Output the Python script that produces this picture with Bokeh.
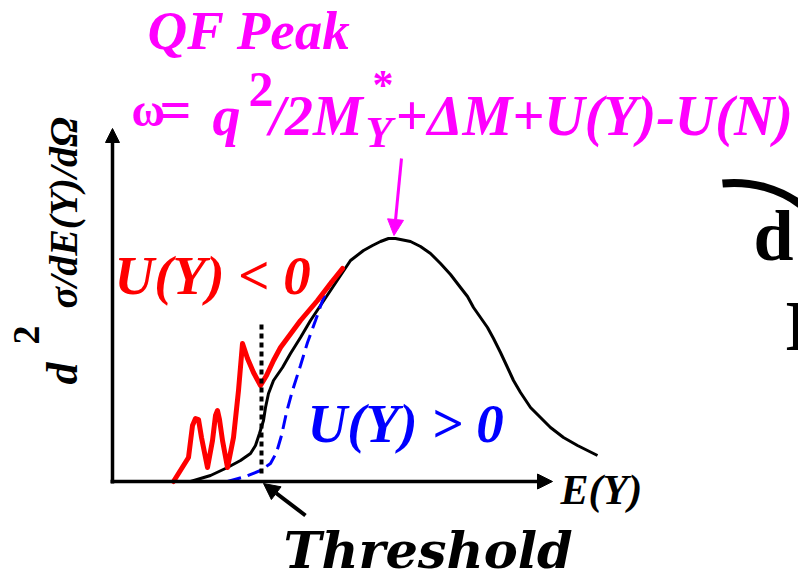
import math
from bokeh.plotting import figure
from bokeh.models import Range1d, Label, Arrow, NormalHead
from bokeh.embed import file_html
from bokeh.resources import INLINE

# ---- schematic data (E = energy axis units, S = cross-section units; origin at axes corner)
black_E = [78, 98, 115, 128, 138, 143, 147, 151, 153, 156, 161, 170, 178, 188, 198, 208,
           218, 228, 238, 251, 260, 268, 276, 283, 298, 308, 318, 328, 338, 348, 355,
           361, 368, 375, 381, 388, 395, 401, 408, 418, 428, 438, 451, 465, 485]
black_S = [0, 6, 14, 21, 28, 36, 48, 61, 74, 88, 101, 114, 128, 144, 161, 176,
           191, 206, 221, 231, 236, 240, 243, 243, 240, 235, 228, 218, 207, 194, 185,
           174, 164, 154, 143, 129, 114, 101, 89, 74, 64, 54, 44, 36, 26]

red_E = [61, 76, 80, 83, 86, 89, 95, 100, 103, 105, 107, 110, 115, 121, 126, 130, 135,
         141, 148, 154, 161, 168, 188, 205, 218, 230]
red_S = [0, 24, 56, 63, 62, 44, 14, 41, 66, 71, 62, 41, 14, 44, 91, 138, 123,
         109, 96, 106, 121, 134, 161, 181, 198, 213]

blue_E = [115, 133, 148, 158, 164, 169, 174, 180, 188, 195, 203, 210, 219]
blue_S = [0, 5, 11, 18, 29, 46, 69, 91, 116, 139, 161, 181, 201]

threshold_E = 149
threshold_S = [8, 159]
qf_peak_E = 281
qf_peak_S = 248

E_axis_end = 440
S_axis_end = 353

W, H = 798, 580
p = figure(width=W, height=H, x_range=Range1d(-112, 686), y_range=Range1d(-99, 481),
           output_backend="svg", toolbar_location=None, min_border=0,
           x_axis_type=None, y_axis_type=None)
p.grid.visible = False
p.outline_line_color = None
p.background_fill_color = "white"


def ix(x):
    return x - 112


def iy(y):
    return 481 - y


MAG = "#ff00ff"
SERIF = "Liberation Serif"

# axes with arrows
p.add_layout(Arrow(end=NormalHead(size=14, fill_color="black", line_color="black"),
                   x_start=0, y_start=-2, x_end=0, y_end=S_axis_end,
                   line_width=3.5, line_color="black"))
p.add_layout(Arrow(end=NormalHead(size=15, fill_color="black", line_color="black"),
                   x_start=-2, y_start=0, x_end=E_axis_end, y_end=0,
                   line_width=3.5, line_color="black"))

# curves
p.line(black_E, black_S, line_width=3, line_color="black", line_join="round")
p.line(blue_E, blue_S, line_width=3, line_color="#0000ff", line_dash="14 7")
p.line(red_E, red_S, line_width=5, line_color="#ff0000", line_join="round", line_cap="round")
p.line([threshold_E, threshold_E], threshold_S, line_width=4, line_color="black",
       line_dash="5 4")

# arrows
p.add_layout(Arrow(end=NormalHead(size=16, fill_color=MAG, line_color=MAG),
                   x_start=ix(401), y_start=iy(158), x_end=qf_peak_E + 0.5, y_end=qf_peak_S - 2,
                   line_width=3, line_color=MAG))
p.add_layout(Arrow(end=NormalHead(size=16, fill_color="black", line_color="black"),
                   x_start=ix(305), y_start=iy(515), x_end=ix(263), y_end=iy(483),
                   line_width=4, line_color="black"))

# partial right-hand elements (edge of a neighbouring panel)
p.bezier(x0=[ix(722)], y0=[iy(183)], x1=[ix(800)], y1=[iy(204)],
         cx0=[ix(752)], cy0=[iy(180)], cx1=[ix(780)], cy1=[iy(189)],
         line_width=8, line_color="black")

BASE_SHIFT = 0.37  # em offset between requested and rendered alphabetic baseline


def lab(x, y, text, size, color="black", style="bold italic", font=SERIF, rotated=False):
    if rotated:
        px, py, ang = ix(x - BASE_SHIFT * size), iy(y), math.pi / 2
    else:
        px, py, ang = ix(x), iy(y - BASE_SHIFT * size), 0.0
    p.add_layout(Label(x=px, y=py, text=text, text_font=font,
                       text_font_style=style, text_font_size=f"{size}px",
                       text_color=color, text_align="left", text_baseline="alphabetic",
                       angle=ang))


lab(147, 50, "QF Peak", 55, MAG)
lab(131, 127, "ω", 46, MAG, style="bold")
lab(159, 130, "=", 56, MAG, style="bold")
lab(212, 136, "q", 56, MAG)
lab(248, 107, "2", 50, MAG, style="bold")
lab(269, 136, "/2M", 56, MAG)
lab(365, 148, "Y", 44, MAG)
lab(372, 100, "*", 42, MAG, style="bold")
lab(395, 136, "+ΔM+U(Y)-U(N)", 56, MAG)

lab(114, 295, "U(Y) < 0", 55, "#ff0000")
lab(307, 443, "U(Y) > 0", 55, "#0000ff")
lab(560, 505, "E(Y)", 42, "black")
lab(283, 568, "Threshold", 51, "black", font="DejaVu Serif")

# y-axis label (rotated)
lab(78, 384, "d", 44, "black", rotated=True)
lab(40, 344, "2", 38, "black", style="bold", rotated=True)
lab(78, 308, "σ/dE(Y)/dΩ", 40, "black", rotated=True)

lab(753, 262, "d", 72, "black", style="bold")
lab(784, 352, "I", 72, "black", style="bold")

open("out.html", "w").write(file_html(p, INLINE))
